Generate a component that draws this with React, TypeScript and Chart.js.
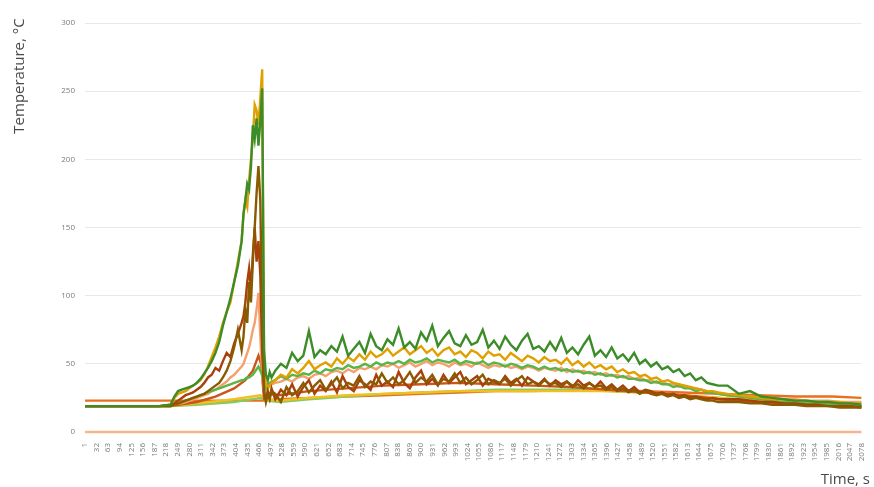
import React, { useEffect, useRef } from "react";
import { Chart, registerables } from "chart.js";

Chart.register(...registerables);

const Y_TITLE = "Temperature, °C";
const X_TITLE = "Time, s";

// sample times (s) shared by the noisy series
const T = [1, 100, 200, 230,
  240, 250, 260, 270, 280, 290, 300, 310, 320, 330, 340, 350, 360, 370, 380, 390, 400, 410, 420,
  425, 430, 435, 440, 445, 450, 455, 460, 465, 470, 475, 480, 485, 490, 495, 500,
  510, 525, 540, 555, 570, 585, 600, 615, 630, 645,
  660, 675, 690, 705, 720, 735, 750, 765, 780, 795,
  810, 825, 840, 855, 870, 885, 900, 915, 930, 945,
  960, 975, 990, 1005, 1020, 1035, 1050, 1065, 1080, 1095,
  1110, 1125, 1140, 1155, 1170, 1185, 1200, 1215, 1230, 1245,
  1260, 1275, 1290, 1305, 1320, 1335, 1350, 1365, 1380, 1395,
  1410, 1425, 1440, 1455, 1470, 1485, 1500, 1515, 1530, 1545,
  1560, 1575, 1590, 1605, 1620, 1635, 1650, 1665, 1680, 1695,
  1720, 1750, 1780, 1810, 1840, 1870, 1900, 1930, 1960, 1990, 2020, 2050, 2078];

const GREEN = [19, 19, 19, 20,
  26, 30, 31, 32, 33, 34, 36, 39, 43, 47, 52, 58, 66, 78, 88, 98, 110, 122, 140,
  160, 170, 182, 178, 195, 225, 215, 230, 210, 228, 252, 60, 42, 38, 44, 40,
  45, 50, 47, 58, 52, 56, 74, 55, 60, 57,
  63, 59, 70, 56, 61, 66, 58, 72, 63, 60,
  68, 64, 76, 62, 66, 61, 73, 67, 78, 63,
  69, 74, 65, 63, 71, 64, 66, 75, 62, 67,
  61, 70, 64, 60, 67, 72, 61, 63, 59, 66,
  60, 69, 58, 62, 57, 64, 70, 56, 60, 55,
  62, 54, 57, 52, 58, 50, 53, 48, 51, 46,
  48, 44, 46, 41, 43, 38, 40, 36, 35, 34,
  34, 28, 30, 26, 25, 24, 23, 23, 22, 22, 21, 21, 20];

const GOLD = [19, 19, 19, 20,
  25, 28, 29, 30, 32, 34, 36, 38, 42, 48, 55, 62, 70, 80, 88, 95, 110, 125, 140,
  160, 170, 165, 185, 200, 215, 240, 236, 225, 245, 266, 50, 35, 32, 34, 36,
  38, 42, 40, 46, 43, 47, 52, 46, 49, 51,
  48, 54, 50, 55, 52, 57, 53, 59, 55, 57,
  61, 56, 59, 62, 57, 60, 63, 58, 61, 56,
  60, 62, 57, 59, 55, 60, 58, 54, 59, 56,
  57, 53, 58, 55, 52, 56, 54, 51, 55, 52,
  53, 50, 54, 49, 52, 48, 51, 47, 49, 46,
  48, 44, 46, 43, 44, 41, 42, 39, 40, 37,
  38, 36, 35, 34, 33, 32, 31, 30, 30, 29,
  28, 27, 26, 25, 24, 24, 23, 23, 22, 22, 22, 21, 21];

const LIGHT_GREEN = [19, 19, 19, 19,
  20, 21, 22, 23, 24, 25, 26, 27, 28, 29, 30, 31, 32, 33, 34, 35, 36, 37, 38,
  38, 39, 40, 40, 41, 42, 44, 46, 48, 45, 42, 36, 32, 35, 36, 37,
  38, 41, 39, 42, 41, 43, 42, 45, 43, 46,
  45, 47, 46, 49, 47, 48, 50, 48, 51, 49,
  51, 50, 52, 50, 53, 51, 52, 54, 51, 53,
  52, 51, 53, 50, 52, 51, 50, 52, 49, 51,
  50, 48, 50, 49, 47, 49, 48, 46, 48, 46,
  47, 45, 46, 44, 45, 43, 44, 42, 43, 41,
  42, 40, 41, 39, 39, 38, 38, 36, 37, 35,
  35, 33, 34, 32, 32, 30, 31, 29, 29, 28,
  27, 26, 25, 24, 23, 22, 22, 21, 21, 20, 20, 20, 19];

const SALMON = [19, 19, 19, 19,
  20, 21, 21, 22, 23, 24, 25, 26, 27, 28, 30, 31, 33, 35, 37, 40, 42, 45, 48,
  50, 54, 58, 62, 68, 75, 80, 90, 102, 70, 40, 30, 28, 32, 34, 35,
  36, 37, 39, 37, 40, 41, 39, 42, 43, 41,
  44, 45, 43, 46, 44, 47, 46, 48, 46, 49,
  48, 50, 47, 49, 51, 48, 50, 52, 49, 51,
  50, 48, 51, 49, 50, 48, 51, 49, 47, 49,
  48, 49, 47, 48, 46, 48, 47, 45, 47, 46,
  45, 47, 44, 46, 44, 45, 43, 44, 42, 43,
  41, 42, 40, 41, 39, 40, 38, 38, 36, 37,
  35, 35, 33, 34, 32, 32, 31, 30, 30, 28,
  27, 26, 26, 25, 25, 24, 24, 23, 23, 23, 22, 22, 22];

const RUST = [19, 19, 19, 20,
  21, 23, 25, 27, 28, 29, 31, 33, 36, 40, 42, 47, 45, 52, 58, 55, 65, 72, 80,
  85, 95, 110, 120, 105, 130, 150, 125, 140, 115, 60, 28, 24, 30, 25, 32,
  24, 31, 27, 35, 26, 33, 38, 28, 34, 30,
  37, 29, 41, 33, 30, 38, 35, 31, 42, 34,
  37, 33, 44, 36, 32, 40, 45, 35, 39, 34,
  42, 36, 40, 44, 35, 38, 41, 34, 39, 37,
  35, 41, 36, 39, 34, 40, 37, 35, 39, 34,
  38, 35, 37, 33, 38, 34, 36, 33, 37, 32,
  35, 31, 34, 30, 33, 29, 31, 30, 28, 29,
  27, 28, 26, 27, 25, 26, 25, 24, 25, 24,
  24, 24, 23, 22, 22, 21, 21, 20, 20, 19, 19, 19, 18];

const OLIVE = [19, 19, 19, 19,
  20, 21, 22, 23, 24, 25, 26, 27, 28, 30, 32, 34, 36, 40, 45, 52, 62, 75, 60,
  70, 90, 80, 110, 95, 125, 150, 175, 195, 170, 80, 30, 22, 28, 24, 30,
  28, 22, 33, 27, 30, 36, 29, 34, 38, 31,
  35, 40, 32, 36, 34, 41, 33, 37, 35, 43,
  36, 40, 35, 38, 44, 36, 40, 37, 42, 35,
  39, 37, 43, 36, 40, 35, 38, 42, 35, 38,
  36, 39, 34, 38, 41, 35, 37, 34, 38, 35,
  36, 33, 37, 34, 35, 32, 36, 33, 34, 31,
  33, 30, 32, 29, 31, 28, 30, 28, 27, 28,
  26, 27, 25, 26, 24, 25, 24, 23, 23, 22,
  22, 22, 21, 21, 20, 20, 20, 19, 19, 19, 18, 18, 18];

// smoother series, each with its own sample times
const RUST2_T = [1, 230, 300, 350, 400, 430, 450, 465, 472, 480, 490, 520, 600, 700, 800, 900, 1000, 1100, 1200, 1300, 1400, 1500, 1600, 1700, 1800, 1900, 2000, 2078];
const RUST2 = [19, 19, 22, 26, 32, 38, 45, 56, 50, 25, 28, 27, 30, 32, 34, 35, 36, 35, 34, 33, 31, 29, 27, 24, 22, 21, 20, 19];

const ORANGE_T = [1, 480, 520, 600, 700, 800, 900, 1000, 1100, 1200, 1300, 1400, 1500, 1600, 1700, 1800, 1900, 2000, 2078];
const ORANGE = [23, 23, 24, 25, 26, 27, 28, 29, 30, 30, 31, 31, 30, 29, 28, 27, 26, 26, 25];

const LOW_T = [1, 230, 300, 400, 470, 490, 520, 600, 700, 800, 900, 1000, 1100, 1200, 1300, 1400, 1500, 1600, 1700, 1800, 1900, 2000, 2078];
const YELLOW = [19, 19, 21, 24, 27, 24, 23, 25, 27, 28, 29, 30, 30, 30, 30, 30, 29, 27, 25, 23, 21, 20, 19];
const PALE_GREEN = [19, 19, 20, 22, 25, 23, 22, 24, 26, 28, 29, 30, 31, 31, 31, 30, 29, 27, 25, 23, 21, 20, 19];

const ZERO_T = [1, 2078];
const ZERO = [0, 0];

const pts = (xs: number[], ys: number[]) => xs.map((x, i) => ({ x, y: ys[i] }));

const titlesPlugin = {
  id: "titles",
  afterDraw(chart: any) {
    const ctx = chart.ctx;
    ctx.save();
    ctx.fillStyle = "#4a4a4a";
    ctx.font = "15px 'Open Sans'";
    ctx.textBaseline = "middle";
    ctx.textAlign = "center";
    ctx.translate(20, 76);
    ctx.rotate(-Math.PI / 2);
    ctx.fillText(Y_TITLE, 0, 0);
    ctx.restore();
    ctx.save();
    ctx.fillStyle = "#4a4a4a";
    ctx.font = "15px 'Open Sans'";
    ctx.textBaseline = "middle";
    ctx.textAlign = "right";
    ctx.fillText(X_TITLE, 870, 480);
    ctx.restore();
  },
};

export default function App() {
  const ref = useRef<HTMLCanvasElement>(null);
  useEffect(() => {
    if (!ref.current) return;
    const mk = (label: string, xs: number[], ys: number[], color: string, w = 2.4) => ({
      label,
      data: pts(xs, ys),
      borderColor: color,
      backgroundColor: color,
      borderWidth: w,
      pointRadius: 0,
      tension: 0,
      fill: false,
      clip: 4,
    });
    const chart = new Chart(ref.current, {
      type: "line",
      data: {
        datasets: [
          mk("T1", T, GREEN, "#3c8c28"),
          mk("T2", T, OLIVE, "#8a5a00"),
          mk("T3", T, RUST, "#a8400c"),
          mk("T4", T, GOLD, "#e0a000"),
          mk("T5", T, LIGHT_GREEN, "#5ab446"),
          mk("T6", T, SALMON, "#f5a06e"),
          mk("T7", RUST2_T, RUST2, "#c8561a"),
          mk("T8", LOW_T, YELLOW, "#f0c020"),
          mk("T9", LOW_T, PALE_GREEN, "#8cc860"),
          mk("T10", ORANGE_T, ORANGE, "#e8701e"),
          mk("T11", ZERO_T, ZERO, "#f8b48c"),
        ] as any,
      },
      options: {
        responsive: false,
        animation: false,
        devicePixelRatio: 1,
        layout: { padding: { top: 23, right: 8, left: 0, bottom: 0 } },
        plugins: { legend: { display: false }, tooltip: { enabled: false } },
        scales: {
          x: {
            type: "linear",
            min: 1,
            max: 2078,
            grid: { display: false },
            border: { display: false },
            ticks: {
              stepSize: 31,
              autoSkip: false,
              maxRotation: 90,
              minRotation: 90,
              padding: 3,
              color: "#7a7a7a",
              font: { size: 8, family: "'Open Sans'" },
              callback: (v: any) => String(Math.round(Number(v))),
            },
            afterFit: (s: any) => { s.height = 55; },
          },
          y: {
            min: 0,
            max: 300,
            grid: { color: "#e8e8e8", drawTicks: false, lineWidth: 1 },
            border: { display: false },
            ticks: {
              stepSize: 50,
              padding: 10,
              color: "#7a7a7a",
              font: { size: 8, family: "'Open Sans'" },
            },
            afterFit: (s: any) => { s.width = 85; },
          },
        },
      } as any,
      plugins: [titlesPlugin],
    });
    return () => chart.destroy();
  }, []);
  return (
    <div style={{ position: "fixed", left: 0, top: 0, width: 874, height: 487, background: "#fff" }}>
      <canvas ref={ref} width={874} height={487} />
    </div>
  );
}
